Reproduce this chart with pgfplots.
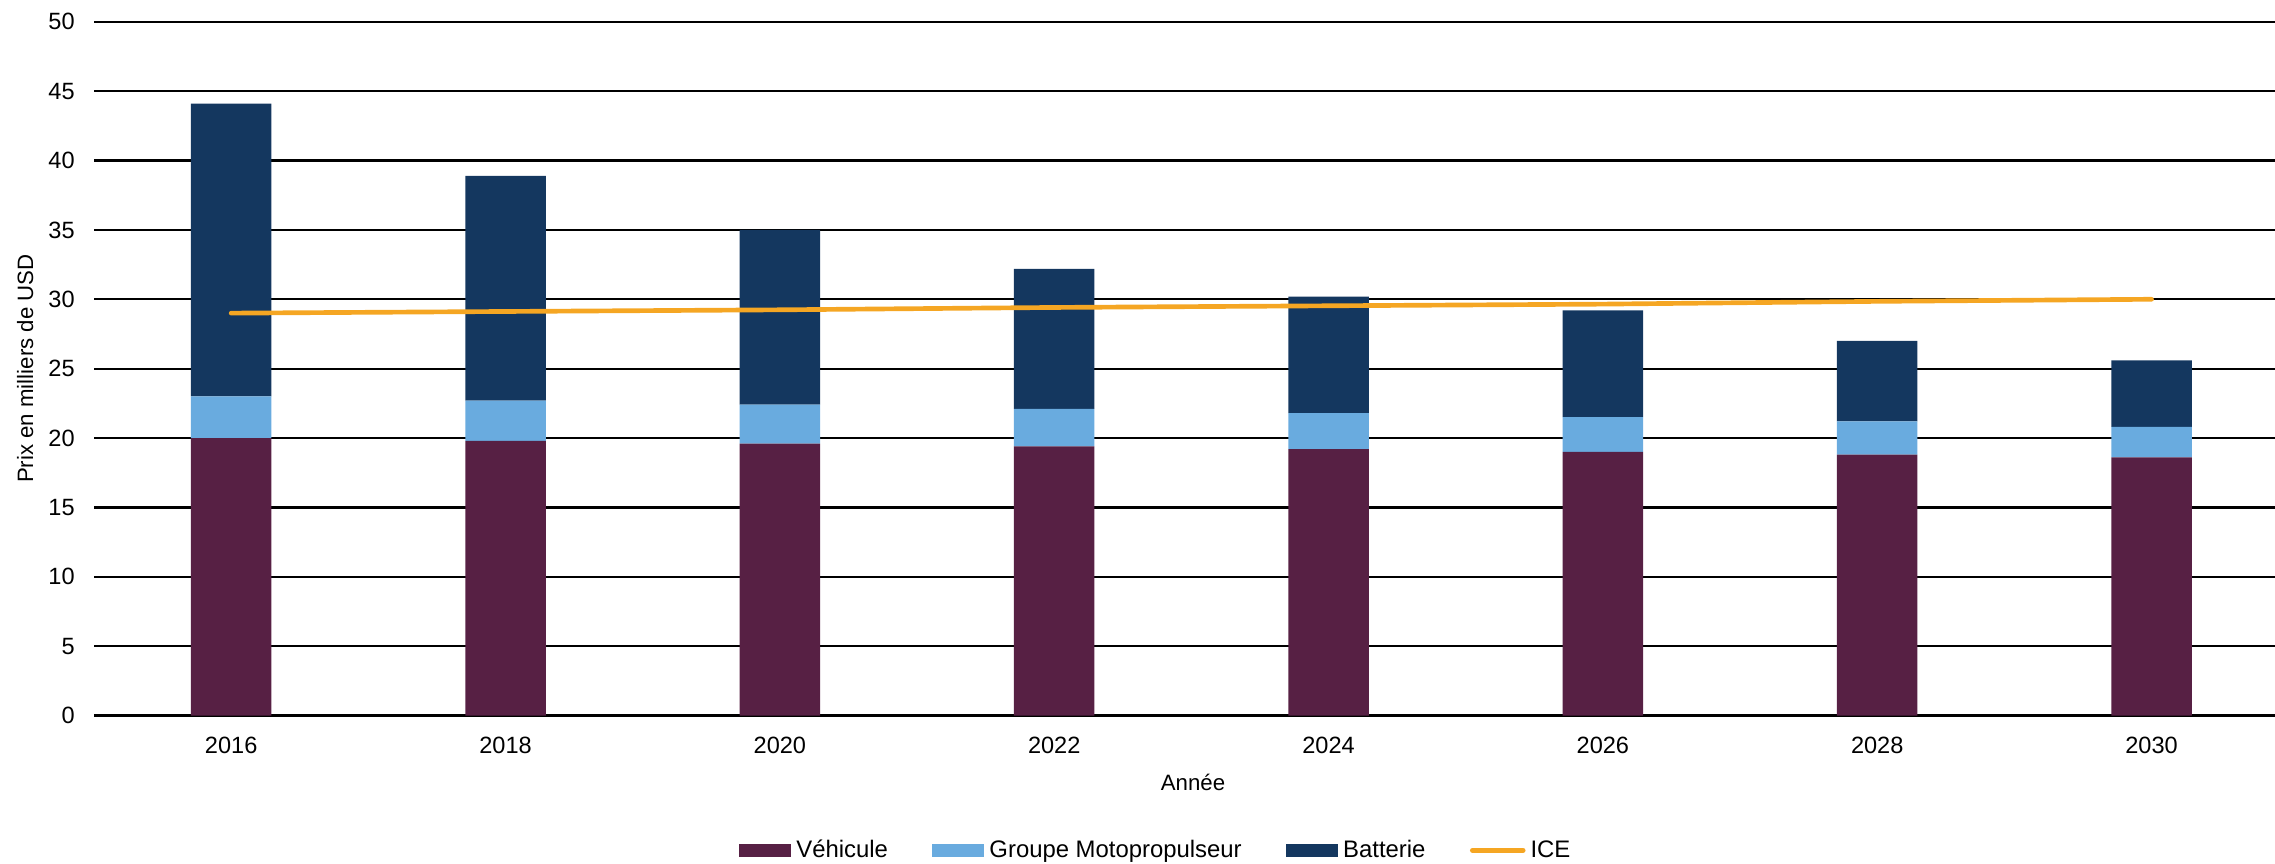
\documentclass[border=0pt]{standalone}
\usepackage{fontspec}
\setmainfont{Liberation Sans}
\usepackage{pgfplots}
\pgfplotsset{compat=1.18}

\definecolor{vehicule}{RGB}{87,32,68}
\definecolor{groupe}{RGB}{105,171,223}
\definecolor{batterie}{RGB}{20,55,95}
\definecolor{ice}{RGB}{245,166,35}

% year, vehicle, powertrain, battery (thousands of USD)
\pgfplotstableread{
year veh grp bat
2016 20.0 3.0 21.1
2018 19.8 2.9 16.2
2020 19.6 2.8 12.6
2022 19.4 2.7 10.1
2024 19.2 2.6 8.4
2026 19.0 2.5 7.7
2028 18.8 2.4 5.8
2030 18.6 2.2 4.8
}\costs

\pgfplotstableread{
year ice
2016 29.00
2018 29.12
2020 29.24
2022 29.41
2024 29.53
2026 29.65
2028 29.85
2030 30.00
}\icetab

\pgfplotsset{
    frame/.style={
        scale only axis,
        width=981.45pt,
        height=312.2pt,
        xmin=2015, xmax=2030.9,
        ymin=0, ymax=50,
    },
}

\begin{document}
\begin{tikzpicture}
\begin{axis}[
    frame,
    ytick={0,5,...,50},
    xtick={2016,2018,...,2030},
    xticklabel={\pgfmathprintnumber[1000 sep={}]{\tick}},
    /pgf/number format/assume math mode=true,
    major tick length=0pt,
    axis line style={draw=none},
    ymajorgrids,
    grid style={black, line width=1pt},
    ybar stacked,
    bar width=0.587,
    tick label style={font=\fontsize{10.6}{12}\selectfont},
    yticklabel style={inner sep=0pt, xshift=-8.5pt},
    xticklabel style={inner sep=0pt, yshift=-9.5pt},
    xlabel={Année},
    ylabel={Prix en milliers de USD},
    label style={font=\fontsize{11.7}{13}\selectfont},
    every axis x label/.style={at={(rel axis cs:0.5039,-0.1082)}, anchor=base},
    every axis y label/.style={at={(rel axis cs:-0.02797,0.5)}, rotate=90, anchor=base},
    legend columns=4,
    legend style={
        at={(rel axis cs:0.2957,-0.1944)}, anchor=west,
        draw=none, fill=none, inner sep=0pt,
        font=\fontsize{10.75}{12}\selectfont,
        nodes={inner sep=0pt, anchor=west},
        /tikz/every odd column/.append style={column sep=2.25pt},
        /tikz/every even column/.append style={column sep=20pt},
    },
    clip=false,
]
\addplot[fill=vehicule, draw=none,
    legend image code/.code={\fill[vehicule] (0pt,-2.8pt) rectangle (23.4pt,2.8pt);}]
    table[x=year, y=veh] {\costs};
\addlegendentry{Véhicule}
\addplot[fill=groupe, draw=none,
    legend image code/.code={\fill[groupe] (0pt,-2.8pt) rectangle (23.4pt,2.8pt);}]
    table[x=year, y=grp] {\costs};
\addlegendentry{Groupe Motopropulseur}
\addplot[fill=batterie, draw=none,
    legend image code/.code={\fill[batterie] (0pt,-2.8pt) rectangle (23.4pt,2.8pt);}]
    table[x=year, y=bat] {\costs};
\addlegendentry{Batterie}
\addlegendimage{legend image code/.code={\draw[ice, line width=2.2pt, line cap=round] (0.8pt,0pt) -- (23.6pt,0pt);}}
\addlegendentry{ICE}
\coordinate (bbl) at (rel axis cs:-0.0431,-0.2139);
\coordinate (btr) at (rel axis cs:1,1.0314);
\end{axis}
% ICE line on its own axis, so it is not stacked on the bars
\begin{axis}[
    frame,
    hide axis,
    clip=false,
]
\addplot[sharp plot, ice, line width=2.1pt, line cap=round, mark=none]
    table[x=year, y=ice] {\icetab};
\end{axis}
\pgfresetboundingbox
\path (bbl) rectangle (btr);
\end{tikzpicture}
\end{document}
